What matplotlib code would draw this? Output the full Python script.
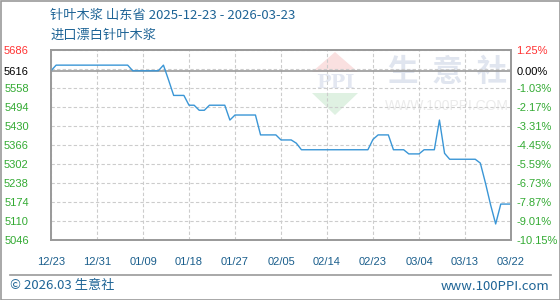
import matplotlib
matplotlib.use("Agg")
import matplotlib.pyplot as plt
from matplotlib.patches import Polygon, Rectangle
from matplotlib.lines import Line2D

plt.rcParams['font.family'] = ['Liberation Sans', 'DejaVu Sans']

# daily price, 2025-12-23 .. 2026-03-23 (91 points)
prices = [5616] + [5635] * 15 + [5616] * 6 + [5635, 5585] + [5533] * 3 \
    + [5500] * 2 + [5483] * 2 + [5500] * 4 + [5450] + [5467] * 5 \
    + [5400] * 4 + [5383] * 3 + [5372] + [5350] * 14 + [5385] + [5400] * 3 \
    + [5350] * 3 + [5336] * 3 + [5350] * 3 + [5450, 5338] + [5318] * 6 \
    + [5305, 5238, 5165, 5100] + [5167] * 3

tick_labels = ["12/23", "12/31", "01/09", "01/18", "01/27", "02/05",
               "02/14", "02/23", "03/04", "03/13", "03/22"]
base = 5616
y_min, y_max, y_step = 5046, 5686, 64
left_ticks = [5046, 5110, 5174, 5238, 5302, 5366, 5430, 5494, 5558, 5616, 5686]
right_labels = ["-10.15%", "-9.01%", "-7.87%", "-6.73%", "-5.59%", "-4.45%",
                "-3.31%", "-2.17%", "-1.03%", "0.00%", "1.25%"]

W, H = 560, 300
fig = plt.figure(figsize=(W / 100, H / 100), dpi=100)

def fx(px):
    return px / W

def fy(py):
    return 1 - py / H

ax = fig.add_axes([fx(51), fy(240), fx(511) - fx(51), fy(50) - fy(240)])
x = list(range(len(prices)))

# grid
for gx in range(0, 91, 9):
    ax.axvline(gx, color="#cccccc", lw=0.8, ls=(0, (3, 2)), zorder=1)
for gy in range(y_min, y_max + 1, y_step):
    ax.axhline(gy, color="#cccccc", lw=0.8, ls=(0, (3, 2)), zorder=1)
ax.axhline(base, color="#999999", lw=1.2, zorder=2)

# watermark
tf = fig.transFigure
wm = [
    Polygon([(fx(312), fy(72)), (fx(358), fy(72)), (fx(335), fy(52))], closed=True,
            transform=tf, facecolor="#fae0e0", edgecolor="none", zorder=0.5),
    Polygon([(fx(312), fy(93)), (fx(358), fy(93)), (fx(335), fy(115))], closed=True,
            transform=tf, facecolor="#dff1e2", edgecolor="none", zorder=0.5),
]
for p in wm:
    ax.add_artist(p)
ax.text(fx(335), fy(83), "PPI", transform=tf, ha="center", va="center",
        fontsize=14, fontweight="bold", family="DejaVu Serif", color="#e3e7f1", zorder=0.6)
ax.text(fx(447), fy(72), "生  意  社", transform=tf, ha="center", va="center",
        fontsize=22, fontweight="bold", family=["Noto Sans CJK SC"], color="#e0e5ef", zorder=0.6)
ax.text(fx(447), fy(106), "WWW.100PPI.COM", transform=tf, ha="center", va="center",
        fontsize=10, color="#ebebeb", zorder=0.6)

ax.plot(x, prices, color="#3a96d6", lw=1.0, zorder=3)

ax.set_xlim(0, 90)
ax.set_ylim(y_min, y_max)
ax.set_xticks(range(0, 91, 9))
ax.set_xticklabels(tick_labels, color="#1a5e8c", fontsize=8)
ax.set_yticks(left_ticks)
ax.set_yticklabels([str(v) for v in left_ticks], fontsize=8)
ax.tick_params(axis="both", length=0)
ax.tick_params(axis="x", pad=12)
ax.tick_params(axis="y", pad=16)
for lbl, v in zip(ax.get_yticklabels(), left_ticks):
    lbl.set_color("#ff3333" if v > base else ("#000000" if v == base else "#33aa33"))

ax2 = ax.twinx()
ax2.set_ylim(y_min, y_max)
ax2.set_yticks(left_ticks)
ax2.set_yticklabels(right_labels, fontsize=8)
ax2.tick_params(axis="y", length=0, pad=4)
for lbl, v in zip(ax2.get_yticklabels(), left_ticks):
    lbl.set_color("#ff3333" if v > base else ("#000000" if v == base else "#33aa33"))

for a in (ax, ax2):
    for s in a.spines.values():
        s.set_color("#999999")
        s.set_linewidth(1.2)

# titles and footer
cjk = ["Noto Sans CJK SC", "DejaVu Sans"]
fig.text(fx(50), fy(15), "针叶木浆 山东省 2025-12-23 - 2026-03-23", family=cjk,
         fontsize=9.5, color="#1e6496", va="center", ha="left")
fig.text(fx(50), fy(35), "进口漂白针叶木浆", family=cjk,
         fontsize=9.5, color="#1e6496", va="center", ha="left")
fig.text(fx(10), fy(286), "© 2026.03 生意社", family=cjk,
         fontsize=9.5, color="#1e6496", va="center", ha="left")
fig.text(fx(549), fy(286), "www.100PPI.com", family=cjk,
         fontsize=9.5, color="#1e6496", va="center", ha="right")
fig.add_artist(Line2D([fx(10), fx(551)], [fy(275), fy(275)], transform=tf,
                      color="#999999", lw=1.2))
fig.add_artist(Rectangle((fx(0.5), fy(299.5)), fx(559), 1 - fy(299), transform=tf,
                         fill=False, edgecolor="#999999", lw=1.2))

fig.savefig("out.png", dpi=100)
